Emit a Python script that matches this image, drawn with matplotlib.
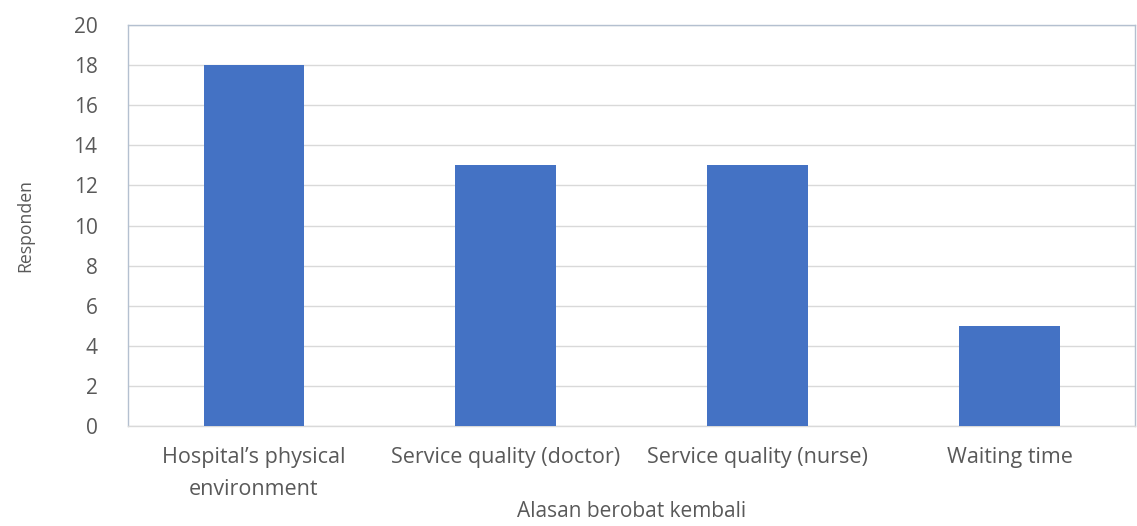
import matplotlib
matplotlib.use("Agg")
import matplotlib.pyplot as plt

categories = ["Hospital\u2019s physical\nenvironment", "Service quality (doctor)",
              "Service quality (nurse)", "Waiting time"]
responden = [18, 13, 13, 5]
yticks = [0, 2, 4, 6, 8, 10, 12, 14, 16, 18, 20]

plt.rcParams['font.family'] = ['Open Sans', 'DejaVu Sans']
text_color = "#595959"

fig = plt.figure(figsize=(11.37, 5.26), dpi=100)
ax = fig.add_axes([0.1126, 0.19, 0.886, 0.7625])

ax.bar(range(len(categories)), responden, width=0.4, color="#4472C4", zorder=3)

ax.set_xlim(-0.5, len(categories) - 0.5)
ax.set_ylim(0, 20)
ax.set_yticks(yticks)
ax.set_xticks(range(len(categories)))
ax.set_xticklabels(categories, fontsize=15.5, color=text_color, linespacing=1.7)
ax.tick_params(axis='y', labelsize=15, labelcolor=text_color, length=0, pad=22)
ax.tick_params(axis='x', length=0, pad=15)

ax.grid(axis='y', color="#D9D9D9", linewidth=1, zorder=0)
for s in ax.spines.values():
    s.set_color("#B4C0D0")
    s.set_linewidth(1)
ax.spines['bottom'].set_color("#D9D9D9")

ax.set_ylabel("Responden", fontsize=12.7, color=text_color, labelpad=28)
ax.set_xlabel("Alasan berobat kembali", fontsize=15, color=text_color, labelpad=1)

fig.savefig("out.png", dpi=100)
